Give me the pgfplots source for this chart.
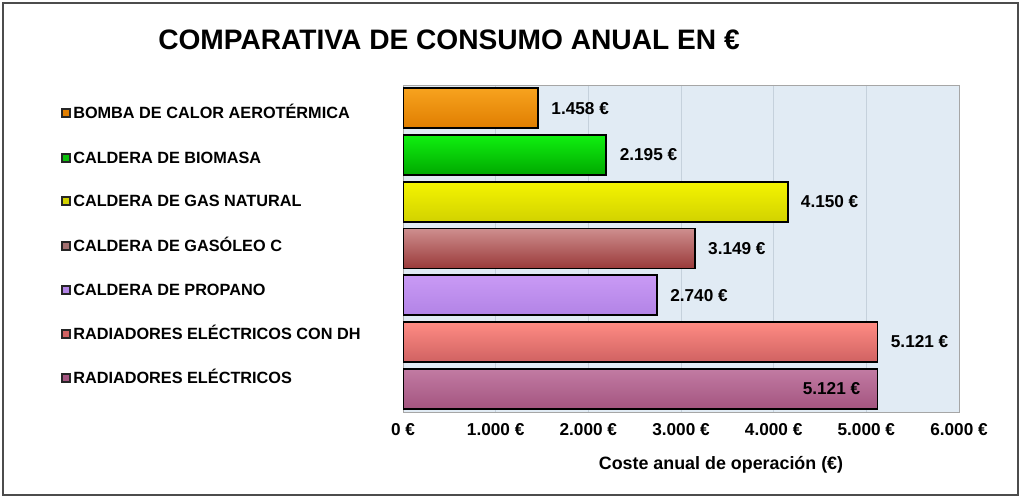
\documentclass[border=0pt]{standalone}
\usepackage{pgfplots}
\pgfplotsset{compat=1.18}
\usepackage{fontspec}
\setmainfont{Liberation Sans}
\definecolor{bgblue}{HTML}{E1EBF4}
\definecolor{gridc}{HTML}{C5D1DC}
\definecolor{orT}{HTML}{F7A21E}\definecolor{orB}{HTML}{E07E00}
\definecolor{grT}{HTML}{10F010}\definecolor{grB}{HTML}{00A800}
\definecolor{yeT}{HTML}{F4F400}\definecolor{yeB}{HTML}{D2D200}
\definecolor{brT}{HTML}{CE8E8E}\definecolor{brB}{HTML}{9A3A3A}
\definecolor{laT}{HTML}{C99AF5}\definecolor{laB}{HTML}{B283E6}
\definecolor{saT}{HTML}{FF8C84}\definecolor{saB}{HTML}{D06262}
\definecolor{maT}{HTML}{C27BA3}\definecolor{maB}{HTML}{A45580}
\begin{document}
\begin{tikzpicture}
\useasboundingbox (0,0) rectangle (768pt,377.25pt);
\fill[white] (0,0) rectangle (768pt,377.25pt);
\draw[line width=1pt, black!70] (2.25pt,6pt) rectangle (763.5pt,375pt);
\begin{axis}[
  at={(302.25pt,68.25pt)}, anchor=south west,
  scale only axis, width=417pt, height=245.25pt,
  xbar, bar shift=0pt, bar width=30pt,
  xmin=0, xmax=6000, ymin=-0.5, ymax=6.5, y dir=reverse,
  xtick={0,1000,2000,3000,4000,5000,6000},
  xticklabels={0 €,1.000 €,2.000 €,3.000 €,4.000 €,5.000 €,6.000 €},
  ytick=\empty,
  major tick length=0pt,
  xmajorgrids, grid style={draw=gridc, line width=0.6pt},
  axis line style={draw=black!35},
  axis background/.style={fill=bgblue},
  xticklabel style={font=\bfseries\fontsize{12.9}{14}\selectfont, yshift=-5pt},
  nodes near coords, point meta=explicit symbolic,
  every node near coord/.append style={font=\bfseries\fontsize{12.9}{14}\selectfont, anchor=west, xshift=6pt, text=black},
]
\addplot[draw=black, line width=1.4pt, top color=orT, bottom color=orB] coordinates {(1458,0) [1.458 €]};
\addplot[draw=black, line width=1.4pt, top color=grT, bottom color=grB] coordinates {(2195,1) [2.195 €]};
\addplot[draw=black, line width=1.4pt, top color=yeT, bottom color=yeB] coordinates {(4150,2) [4.150 €]};
\addplot[draw=black, line width=1.4pt, top color=brT, bottom color=brB] coordinates {(3149,3) [3.149 €]};
\addplot[draw=black, line width=1.4pt, top color=laT, bottom color=laB] coordinates {(2740,4) [2.740 €]};
\addplot[draw=black, line width=1.4pt, top color=saT, bottom color=saB] coordinates {(5121,5) [5.121 €]};
\addplot[draw=black, line width=1.4pt, top color=maT, bottom color=maB,
  every node near coord/.append style={anchor=east, xshift=-15pt}] coordinates {(5121,6) [5.121 €]};
\end{axis}
\node[font=\bfseries\fontsize{21.1}{24}\selectfont, anchor=base] at (336.75pt,340.1pt) {COMPARATIVA DE CONSUMO ANUAL EN €};
\node[font=\bfseries\fontsize{13.4}{15}\selectfont, anchor=base] at (540.75pt,25.3pt) {Coste anual de operación (€)};
\newcommand{\leg}[3]{%
  \filldraw[fill=#2, draw=black!85, line width=1pt] (46.5pt,#1pt-3pt) rectangle (52.5pt,#1pt+3pt);
  \node[font=\bfseries\fontsize{12.2}{14}\selectfont, anchor=base west, inner sep=0pt] at (54.75pt,#1pt-4.4pt) {#3};}
\leg{292.5}{orB}{BOMBA DE CALOR AEROTÉRMICA}
\leg{258.75}{grT!80!black}{CALDERA DE BIOMASA}
\leg{226.5}{yeB}{CALDERA DE GAS NATURAL}
\leg{192.75}{brT!80!black}{CALDERA DE GASÓLEO C}
\leg{159.75}{laB}{CALDERA DE PROPANO}
\leg{126.75}{saB}{RADIADORES ELÉCTRICOS CON DH}
\leg{93.75}{maB}{RADIADORES ELÉCTRICOS}
\end{tikzpicture}
\end{document}
